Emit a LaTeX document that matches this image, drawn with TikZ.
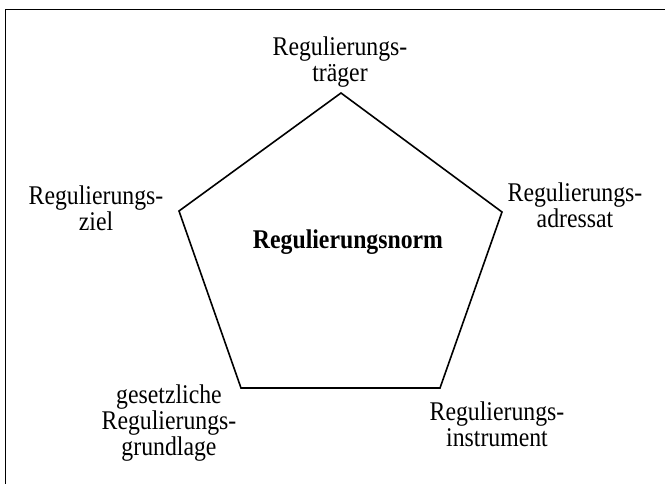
\documentclass[tikz,border=0pt]{standalone}
\usepackage{fontspec}
\setmainfont[FakeStretch=0.88]{Liberation Serif}
\tikzset{
  lbl/.style={align=center,inner sep=0pt,font=\fontsize{27}{26}\selectfont},
  frame/.style={line width=1.4pt}
}
\begin{document}
\begin{tikzpicture}[x=1pt,y=-1pt,line width=1.6pt,line join=miter]
        \useasboundingbox (0,0) rectangle (665,484);
        \draw[frame] (5.5,484) -- (5.5,9.5) -- (665,9.5);
        % corners of the pentagon
        \coordinate (traeger) at (341,93);
        \coordinate (adressat) at (502,212);
        \coordinate (instrument) at (440,388);
        \coordinate (grundlage) at (241,388);
        \coordinate (ziel) at (179,211);
        \draw (traeger) -- (adressat) -- (instrument) -- (grundlage) -- (ziel) -- cycle;
        \node[lbl,font=\fontsize{27}{26}\selectfont\bfseries] (norm) at (348,242) {Regulierungsnorm};
        \node[lbl] (ltraeger) at (340,62) {Regulierungs-\\träger};
        \node[lbl] (ladressat) at (575,205) {Regulierungs-\\adressat};
        \node[lbl] (linstrument) at (497,424) {Regulierungs-\\instrument};
        \node[lbl] (lgrundlage) at (169,423) {gesetzliche\\Regulierungs-\\grundlage};
        \node[lbl] (lziel) at (96,208) {Regulierungs-\\ziel};
      \end{tikzpicture}
\end{document}
